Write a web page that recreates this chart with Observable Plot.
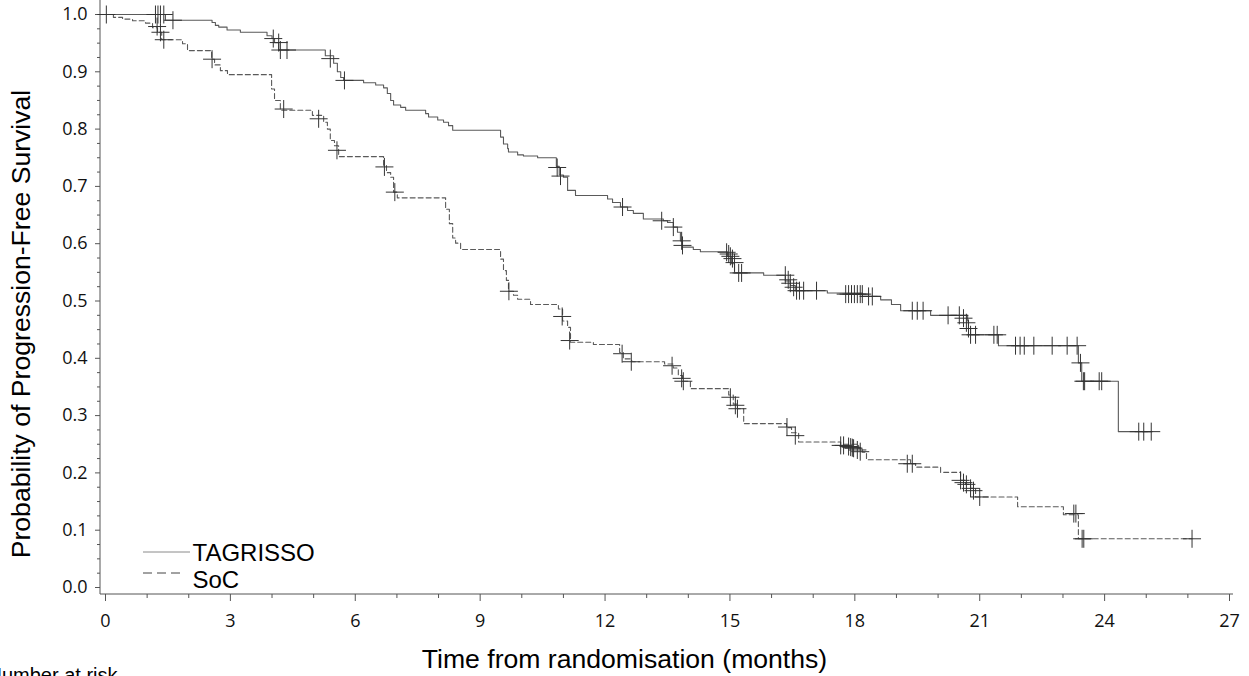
<!DOCTYPE html>
<html><head><meta charset="utf-8">
<script src="https://cdn.jsdelivr.net/npm/d3@7"></script>
<script src="https://cdn.jsdelivr.net/npm/@observablehq/plot@0.6"></script>
<style>html,body{margin:0;padding:0;background:#fff;overflow:hidden;} #chart svg{display:block;}</style>
</head><body><div id="chart"></div>
<script>
// TAGRISSO Kaplan-Meier steps (time in months, survival probability)
const tagTimes = [0, 1.44, 2.56, 2.64, 2.72, 2.92, 3.24, 3.88, 4.0, 4.06, 4.16, 5.28, 5.48, 5.57, 5.65, 5.72, 6.2, 6.49, 6.68, 6.77, 6.85, 6.92, 7.09, 7.21, 7.69, 7.76, 7.98, 8.12, 8.24, 8.34, 9.49, 9.56, 9.66, 9.68, 9.9, 10.04, 10.38, 10.83, 10.9, 11.0, 11.1, 11.29, 12.06, 12.18, 12.37, 12.54, 12.68, 12.92, 13.4, 13.5, 13.64, 13.74, 13.81, 13.86, 14.12, 14.29, 14.94, 15.04, 15.11, 15.81, 16.33, 16.45, 16.57, 17.34, 18.18, 18.62, 18.88, 19.1, 19.82, 20.71, 20.73, 20.78, 21.45, 23.37, 23.45, 24.33];
const tagSurv = [1.0, 0.990, 0.986, 0.981, 0.978, 0.973, 0.969, 0.963, 0.958, 0.951, 0.938, 0.928, 0.915, 0.900, 0.890, 0.885, 0.881, 0.877, 0.872, 0.862, 0.850, 0.842, 0.838, 0.833, 0.827, 0.821, 0.816, 0.812, 0.806, 0.798, 0.786, 0.774, 0.766, 0.760, 0.755, 0.753, 0.750, 0.735, 0.720, 0.716, 0.693, 0.684, 0.678, 0.672, 0.664, 0.658, 0.653, 0.643, 0.640, 0.637, 0.629, 0.620, 0.605, 0.594, 0.590, 0.586, 0.578, 0.565, 0.549, 0.545, 0.535, 0.527, 0.518, 0.514, 0.508, 0.502, 0.494, 0.483, 0.475, 0.465, 0.452, 0.441, 0.422, 0.392, 0.360, 0.272];
const tagEnd = 25.12;
const tagCensT = [0.02, 1.2, 1.26, 1.32, 1.4, 1.62, 4.03, 4.16, 4.2, 4.36, 5.4, 5.74, 10.85, 10.93, 12.42, 13.36, 13.64, 13.84, 13.86, 14.92, 14.97, 15.01, 15.06, 15.11, 15.21, 15.28, 16.33, 16.4, 16.45, 16.53, 16.6, 16.67, 16.77, 17.08, 17.78, 17.85, 17.92, 17.99, 18.06, 18.13, 18.18, 18.33, 18.42, 19.38, 19.5, 19.64, 20.24, 20.51, 20.61, 20.68, 20.73, 20.78, 20.9, 21.34, 21.42, 21.86, 21.97, 22.07, 22.3, 22.74, 23.1, 23.34, 23.42, 23.49, 23.52, 23.87, 23.93, 24.82, 24.94, 25.12];
const tagCensS = [1.0, 1.0, 1.0, 1.0, 1.0, 0.990, 0.958, 0.951, 0.938, 0.938, 0.923, 0.885, 0.733, 0.718, 0.664, 0.640, 0.629, 0.605, 0.597, 0.585, 0.582, 0.578, 0.574, 0.567, 0.549, 0.549, 0.545, 0.537, 0.531, 0.524, 0.518, 0.518, 0.518, 0.518, 0.512, 0.512, 0.512, 0.512, 0.512, 0.512, 0.512, 0.508, 0.508, 0.483, 0.483, 0.483, 0.475, 0.475, 0.470, 0.462, 0.452, 0.441, 0.441, 0.441, 0.441, 0.422, 0.422, 0.422, 0.422, 0.422, 0.422, 0.422, 0.392, 0.360, 0.360, 0.360, 0.360, 0.272, 0.272, 0.272];

// SoC Kaplan-Meier steps
const socTimes = [0, 0.19, 0.41, 0.65, 0.96, 1.13, 1.25, 1.35, 1.85, 1.97, 2.55, 2.62, 2.76, 2.93, 3.99, 4.06, 4.2, 4.97, 5.24, 5.33, 5.4, 5.5, 5.6, 6.68, 6.75, 6.85, 6.92, 7.01, 8.17, 8.26, 8.34, 8.41, 8.53, 9.49, 9.56, 9.63, 9.68, 9.8, 9.9, 10.21, 10.88, 10.98, 11.1, 11.17, 11.72, 12.35, 12.44, 12.64, 13.43, 13.64, 13.76, 13.86, 14.05, 14.97, 15.08, 15.18, 15.33, 16.36, 16.48, 16.65, 17.66, 18.09, 18.18, 18.28, 19.34, 19.46, 20.06, 20.54, 20.66, 20.78, 20.9, 21.91, 23.01, 23.37];
const socSurv = [1.0, 0.995, 0.992, 0.989, 0.985, 0.977, 0.969, 0.956, 0.949, 0.937, 0.922, 0.912, 0.902, 0.895, 0.870, 0.850, 0.833, 0.824, 0.812, 0.800, 0.780, 0.771, 0.752, 0.737, 0.724, 0.716, 0.690, 0.680, 0.660, 0.635, 0.610, 0.601, 0.590, 0.573, 0.553, 0.536, 0.517, 0.510, 0.503, 0.494, 0.486, 0.465, 0.454, 0.428, 0.424, 0.410, 0.399, 0.394, 0.390, 0.383, 0.370, 0.360, 0.347, 0.336, 0.320, 0.312, 0.286, 0.279, 0.270, 0.254, 0.250, 0.243, 0.236, 0.223, 0.216, 0.210, 0.201, 0.187, 0.180, 0.173, 0.158, 0.141, 0.127, 0.085];
const socEnd = 26.1;
const socCensT = [1.24, 1.32, 1.4, 2.56, 4.28, 5.12, 5.56, 6.7, 6.95, 9.69, 10.97, 11.15, 12.41, 12.63, 13.61, 13.84, 13.88, 15.01, 15.13, 15.18, 16.37, 16.57, 17.66, 17.73, 17.85, 17.9, 17.94, 17.97, 18.06, 18.13, 19.26, 19.38, 20.54, 20.61, 20.68, 20.78, 20.85, 21.0, 23.26, 23.31, 23.46, 23.5, 26.1];
const socCensS = [0.979, 0.969, 0.956, 0.922, 0.835, 0.818, 0.763, 0.734, 0.690, 0.517, 0.473, 0.431, 0.408, 0.394, 0.387, 0.365, 0.360, 0.332, 0.318, 0.312, 0.280, 0.265, 0.248, 0.248, 0.246, 0.245, 0.244, 0.243, 0.240, 0.237, 0.216, 0.216, 0.187, 0.183, 0.180, 0.173, 0.169, 0.158, 0.129, 0.129, 0.085, 0.085, 0.085];

// Axis ticks and labels
const xMajor = [0, 3, 6, 9, 12, 15, 18, 21, 24, 27];
const xMinor = d3.range(0, 28).filter(d => d % 3 !== 0);
const yMajor = [0, 0.1, 0.2, 0.3, 0.4, 0.5, 0.6, 0.7, 0.8, 0.9, 1.0];
const yMinor = d3.range(0, 41).map(i => i * 0.025).filter((d, i) => i % 4 !== 0);
const seriesNames = ["TAGRISSO", "SoC"];
const xLabel = "Time from randomisation (months)";
const yLabel = "Probability of Progression-Free Survival";
const riskLabel = "Number at risk";

const steps = (times, surv, end) => {
  const d = times.map((t, i) => ({t, s: surv[i]}));
  d.push({t: end, s: surv[surv.length - 1]});
  return d;
};
const cens = (T, S) => T.map((t, i) => ({t, s: S[i]}));
const plus = {draw(ctx, size) {const h = Math.sqrt(size / Math.PI); ctx.moveTo(-h, 0); ctx.lineTo(h, 0); ctx.moveTo(0, -h); ctx.lineTo(0, h);}};
const LAB = "'Liberation Sans', Arial, sans-serif";

const frameLines = (index, {x, y}) => {
  const g = d3.create("svg:g").attr("stroke", "#555").attr("stroke-width", 1).attr("fill", "none");
  const x0 = x(0) - 5, yb = y(0) + 7;
  g.append("line").attr("x1", x0).attr("x2", x0).attr("y1", 0).attr("y2", yb);
  g.append("line").attr("x1", x0).attr("x2", x(27) + 4).attr("y1", yb).attr("y2", yb);
  // legend swatches
  g.append("line").attr("x1", x(0) + 38).attr("x2", x(0) + 85).attr("y1", y(0) - 35).attr("y2", y(0) - 35).attr("stroke", "#8a8a8a");
  g.append("line").attr("x1", x(0) + 38).attr("x2", x(0) + 78).attr("y1", y(0) - 14).attr("y2", y(0) - 14).attr("stroke", "#444").attr("stroke-dasharray", "9,5");
  return g.node();
};

const chart = Plot.plot({
  width: 1249, height: 676,
  marginLeft: 105, marginRight: 20, marginTop: 14, marginBottom: 89,
  style: {fontFamily: "'Open Sans', sans-serif", fontSize: "18px", background: "#fff", color: "#000"},
  x: {domain: [0, 27], axis: null, label: null},
  y: {domain: [0, 1], axis: null, label: null},
  marks: [
    frameLines,
    Plot.axisY(yMinor, {tickSize: 3, dx: -5, tickFormat: () => "", label: null, stroke: "#555"}),
    Plot.axisY(yMajor, {tickSize: 5, dx: -5, tickPadding: 8, tickFormat: d => d.toFixed(1), label: null, stroke: "#555", fontSize: 18, fill: "#111"}),
    Plot.axisX(xMinor, {tickSize: 4, dy: 7, tickFormat: () => "", label: null, stroke: "#555"}),
    Plot.axisX(xMajor, {tickSize: 7, dy: 7, tickPadding: 13, tickFormat: d => String(d), label: null, stroke: "#555", fontSize: 18, fill: "#111"}),
    Plot.line(steps(tagTimes, tagSurv, tagEnd), {x: "t", y: "s", curve: "step-after", stroke: "#5a5a5a", strokeWidth: 1.1}),
    Plot.line(steps(socTimes, socSurv, socEnd), {x: "t", y: "s", curve: "step-after", stroke: "#5a5a5a", strokeWidth: 1.1, strokeDasharray: "5,3"}),
    Plot.dot(cens(tagCensT, tagCensS), {x: "t", y: "s", symbol: plus, r: 9, stroke: "#333", strokeWidth: 1, fill: "none"}),
    Plot.dot(cens(socCensT, socCensS), {x: "t", y: "s", symbol: plus, r: 9, stroke: "#333", strokeWidth: 1, fill: "none"}),
    Plot.text([seriesNames[0]], {frameAnchor: "bottom-left", dx: 87, dy: -27, textAnchor: "start", lineAnchor: "bottom", fontSize: 24, fontFamily: LAB, fill: "#000"}),
    Plot.text([seriesNames[1]], {frameAnchor: "bottom-left", dx: 87, dy: 0, textAnchor: "start", lineAnchor: "bottom", fontSize: 24, fontFamily: LAB, fill: "#000"}),
    Plot.text([yLabel], {frameAnchor: "left", rotate: -90, dx: -84, dy: 23, textAnchor: "middle", lineAnchor: "middle", fontSize: 26.6, fontFamily: LAB, fill: "#000"}),
    Plot.text([xLabel], {frameAnchor: "bottom", dx: -43, dy: 80, textAnchor: "middle", lineAnchor: "bottom", fontSize: 26.6, fontFamily: LAB, fill: "#000"}),
    Plot.text([riskLabel], {frameAnchor: "bottom-left", dx: -118, dy: 94, textAnchor: "start", lineAnchor: "bottom", fontSize: 20, fontFamily: LAB, fill: "#000"})
  ]
});
document.getElementById("chart").appendChild(chart);
</script>
</body></html>
